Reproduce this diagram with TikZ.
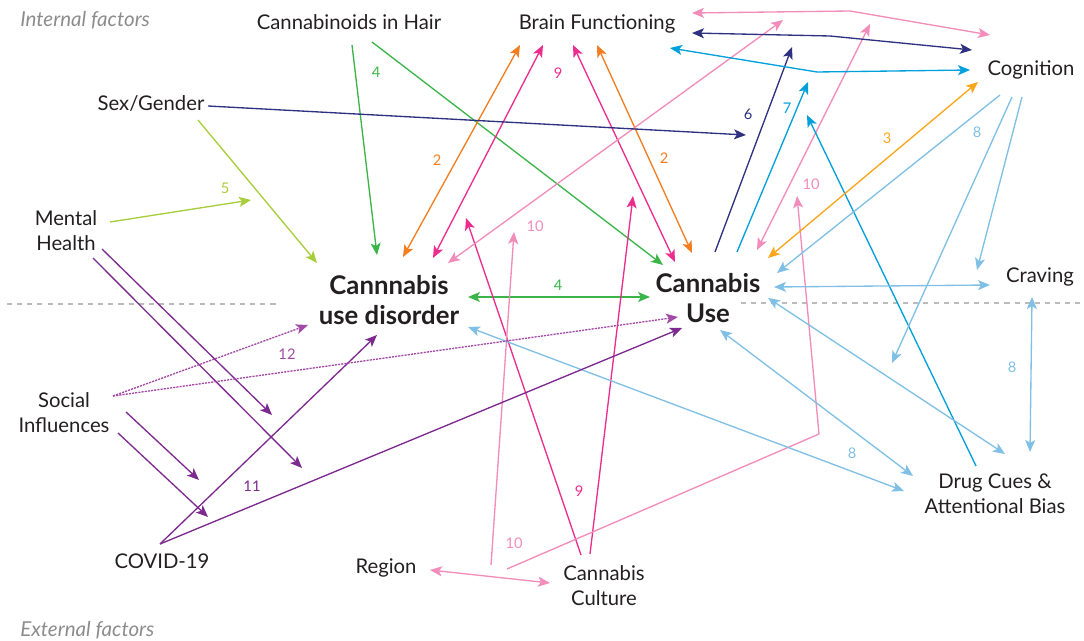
\documentclass[tikz,border=0pt]{standalone}
\usepackage{fontspec}
\setmainfont{Lato}
\usetikzlibrary{arrows.meta}
\definecolor{txt}{HTML}{231F20}
\definecolor{fac}{HTML}{8C8C8C}
\definecolor{sep}{HTML}{BBBBBB}
\definecolor{cG}{HTML}{3BB54A}
\definecolor{cO}{HTML}{F47D20}
\definecolor{cM}{HTML}{EC2D8E}
\definecolor{cP}{HTML}{F28CBA}
\definecolor{cN}{HTML}{2E3180}
\definecolor{cC}{HTML}{00A0DC}
\definecolor{cY}{HTML}{FAA61A}
\definecolor{cB}{HTML}{7FC0E4}
\definecolor{cYG}{HTML}{A8CD3A}
\definecolor{cPu}{HTML}{7D2A8F}
\definecolor{cPd}{HTML}{A24BA6}
\begin{document}
\begin{tikzpicture}[x=0.75pt,y=-0.75pt,
  >={Stealth[length=9pt,width=7.5pt,inset=2.2pt]},
  lbl/.style={font=\fontsize{15.2}{18.75}\selectfont, text=txt, align=center, inner sep=0pt},
  big/.style={font=\fontsize{19.3}{22.5}\selectfont\bfseries, text=txt, align=center, inner sep=0pt},
  facs/.style={font=\fontsize{15.4}{17}\selectfont\itshape, text=fac, inner sep=0pt, anchor=west},
  num/.style={font=\fontsize{11}{12}\selectfont, inner sep=0pt},
  ln/.style={line width=1pt},
  sepline/.style={draw=sep, line width=0.8pt, dash pattern=on 3.8pt off 3.8pt},
  dot/.style={line width=1pt, dash pattern=on 1.6pt off 0.8pt}]
\useasboundingbox (0,0) rectangle (1084,641);

% ---- texts ----
\node[facs] (intf) at (20,20) {Internal factors};
\node[facs] (extf) at (20,630) {External factors};
\node[lbl] (hair) at (349,22) {Cannabinoids in Hair};
\node[lbl] (brain) at (597,24) {Brain Functioning};
\node[lbl] (cog) at (1031,70) {Cognition};
\node[lbl] (sex) at (151,103) {Sex/Gender};
\node[lbl] (mh) at (66,231) {Mental\\Health};
\node[lbl] (crav) at (1040,277) {Craving};
\node[lbl] (soc) at (64,413) {Social\\Influences};
\node[lbl] (covid) at (162,561) {COVID-19};
\node[lbl] (reg) at (386,568) {Region};
\node[lbl] (cult) at (604,586) {Cannabis\\Culture};
\node[lbl] (drug) at (995,494) {Drug Cues \&\\Attentional Bias};
\node[big] (cud) at (389,300) {Cannnabis\\use disorder};
\node[big] (cu) at (708,298) {Cannabis\\Use};

% ---- separator ----
\coordinate (s1) at (7,304); \coordinate (s2) at (280,304);
\coordinate (s3) at (741,303); \coordinate (s4) at (1080,303);
\draw[sepline] (s1) -- (s2);
\draw[sepline] (s3) -- (s4);

% ---- end points ----
\coordinate (g1a) at (352,45);  \coordinate (g1b) at (377,255);
\coordinate (g2a) at (372,42);  \coordinate (g2b) at (663,265);
\coordinate (g3a) at (468,297); \coordinate (g3b) at (650,297);
\coordinate (o1a) at (403,257); \coordinate (o1b) at (520,45);
\coordinate (o2a) at (597,45);  \coordinate (o2b) at (692,253);
\coordinate (m1a) at (433,258); \coordinate (m1b) at (543,45);
\coordinate (m2a) at (573,45);  \coordinate (m2b) at (675,262);
\coordinate (m3a) at (581,555); \coordinate (m3b) at (466,218);
\coordinate (m4a) at (590,554); \coordinate (m4b) at (633,196);
\coordinate (p1a) at (491,565); \coordinate (p1b) at (514,232);
\coordinate (p2a) at (507,569); \coordinate (p2k) at (819,434); \coordinate (p2b) at (797,196);
\coordinate (p3a) at (430,570); \coordinate (p3b) at (550,583);
\coordinate (p4a) at (448,263); \coordinate (p4b) at (783,20);
\coordinate (p5a) at (757,250); \coordinate (p5b) at (870,24);
\coordinate (p6a) at (692,13);  \coordinate (p6k) at (850,11); \coordinate (p6b) at (990,35);
\coordinate (n1a) at (208,106); \coordinate (n1b) at (746,135);
\coordinate (n2a) at (715,252); \coordinate (n2b) at (792,47);
\coordinate (n3a) at (692,33);  \coordinate (n3k) at (830,36); \coordinate (n3b) at (972,50);
\coordinate (c1a) at (737,252); \coordinate (c1b) at (808,82);
\coordinate (c2a) at (976,466); \coordinate (c2b) at (807,115);
\coordinate (c3a) at (670,48);  \coordinate (c3k) at (817,72); \coordinate (c3b) at (970,70);
\coordinate (y1a) at (768,258); \coordinate (y1b) at (978,82);
\coordinate (b1a) at (1000,95); \coordinate (b1b) at (777,273);
\coordinate (b2a) at (1012,97); \coordinate (b2b) at (892,363);
\coordinate (b3a) at (1022,97); \coordinate (b3b) at (977,270);
\coordinate (b4a) at (774,287); \coordinate (b4b) at (990,285);
\coordinate (b5a) at (1032,297); \coordinate (b5b) at (1030,452);
\coordinate (b6a) at (768,298); \coordinate (b6b) at (1005,454);
\coordinate (b7a) at (720,330); \coordinate (b7b) at (913,476);
\coordinate (b8a) at (468,327); \coordinate (b8b) at (904,491);
\coordinate (v1a) at (110,222); \coordinate (v1b) at (251,200);
\coordinate (v2a) at (198,120); \coordinate (v2b) at (317,263);
\coordinate (u1a) at (102,249); \coordinate (u1b) at (272,415);
\coordinate (u2a) at (93,258);  \coordinate (u2b) at (302,468);
\coordinate (u3a) at (126,412); \coordinate (u3b) at (199,480);
\coordinate (u4a) at (118,433); \coordinate (u4b) at (208,517);
\coordinate (u5a) at (160,544); \coordinate (u5b) at (377,335);
\coordinate (u6b) at (682,328);
\coordinate (d1a) at (113,396); \coordinate (d1b) at (308,325);
\coordinate (d2b) at (678,317);

% ---- connectors ----
\draw[ln,cG,->] (g1a) -- (g1b);
\draw[ln,cG,->] (g2a) -- (g2b);
\draw[ln,cG,<->] (g3a) -- (g3b);
\draw[ln,cO,<->] (o1a) -- (o1b);
\draw[ln,cO,<->] (o2a) -- (o2b);
\draw[ln,cM,<->] (m1a) -- (m1b);
\draw[ln,cM,<->] (m2a) -- (m2b);
\draw[ln,cM,->] (m3a) -- (m3b);
\draw[ln,cM,->] (m4a) -- (m4b);
\draw[ln,cP,->] (p1a) -- (p1b);
\draw[ln,cP,->] (p2a) -- (p2k) -- (p2b);
\draw[ln,cP,<->] (p3a) -- (p3b);
\draw[ln,cP,<->] (p4a) -- (p4b);
\draw[ln,cP,<->] (p5a) -- (p5b);
\draw[ln,cP,<->] (p6a) -- (p6k) -- (p6b);
\draw[ln,cN,->] (n1a) -- (n1b);
\draw[ln,cN,->] (n2a) -- (n2b);
\draw[ln,cN,<->] (n3a) -- (n3k) -- (n3b);
\draw[ln,cC,->] (c1a) -- (c1b);
\draw[ln,cC,->] (c2a) -- (c2b);
\draw[ln,cC,<->] (c3a) -- (c3k) -- (c3b);
\draw[ln,cY,<->] (y1a) -- (y1b);
\draw[ln,cB,->] (b1a) -- (b1b);
\draw[ln,cB,->] (b2a) -- (b2b);
\draw[ln,cB,->] (b3a) -- (b3b);
\draw[ln,cB,<->] (b4a) -- (b4b);
\draw[ln,cB,<->] (b5a) -- (b5b);
\draw[ln,cB,<->] (b6a) -- (b6b);
\draw[ln,cB,<->] (b7a) -- (b7b);
\draw[ln,cB,<->] (b8a) -- (b8b);
\draw[ln,cYG,->] (v1a) -- (v1b);
\draw[ln,cYG,->] (v2a) -- (v2b);
\draw[ln,cPu,->] (u1a) -- (u1b);
\draw[ln,cPu,->] (u2a) -- (u2b);
\draw[ln,cPu,->] (u3a) -- (u3b);
\draw[ln,cPu,->] (u4a) -- (u4b);
\draw[ln,cPu,->] (u5a) -- (u5b);
\draw[ln,cPu,->] (u5a) -- (u6b);
\draw[dot,cPd,->] (d1a) -- (d1b);
\draw[dot,cPd,->] (d1a) -- (d2b);

% ---- numbers ----
\node[num,cG] (l4a) at (376,72) {4};
\node[num,cO] (l2a) at (437,160) {2};
\node[num,cM] (l9a) at (558,73) {9};
\node[num,cO] (l2b) at (664,158) {2};
\node[num,cN] (l6) at (748,114) {6};
\node[num,cC] (l7) at (787,108) {7};
\node[num,cY] (l3) at (887,138) {3};
\node[num,cB] (l8a) at (977,132) {8};
\node[num,cYG] (l5) at (225,188) {5};
\node[num,cP] (l10a) at (535,226) {10};
\node[num,cP] (l10b) at (811,184) {10};
\node[num,cG] (l4b) at (558,285) {4};
\node[num,cPd] (l12) at (287,354) {12};
\node[num,cB] (l8b) at (1012,367) {8};
\node[num,cPu] (l11) at (252,486) {11};
\node[num,cM] (l9b) at (579,491) {9};
\node[num,cB] (l8c) at (852,453) {8};
\node[num,cP] (l10c) at (514,543) {10};
\end{tikzpicture}
\end{document}
